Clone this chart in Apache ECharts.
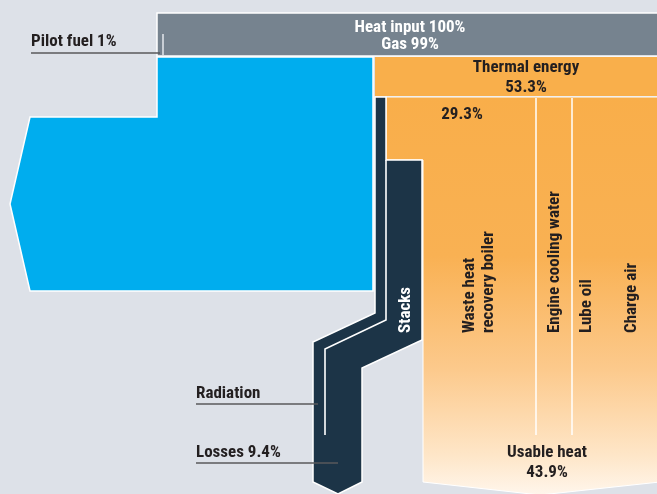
<!DOCTYPE html>
<html>
<head>
<meta charset="utf-8">
<script src="https://cdn.jsdelivr.net/npm/echarts@6/dist/echarts.min.js"></script>
<style>
html,body{margin:0;padding:0;background:#dde1e8;}
#c{width:657px;height:494px;}
</style>
</head>
<body>
<div id="c"></div>
<script>
// ---- data (energy shares, %) ----
const flowNames = ['Heat input', 'Gas', 'Pilot fuel', 'Thermal energy', 'Waste heat recovery boiler', 'Losses', 'Usable heat'];
const flowShares = [100, 99, 1, 53.3, 29.3, 9.4, 43.9];
const thermalParts = ['Waste heat\nrecovery boiler', 'Engine cooling water', 'Lube oil', 'Charge air'];
const lossParts = ['Stacks', 'Radiation'];

// ---- layout (diagram coordinates, drawn through hidden value axes) ----
const FONT = 'bold 17px "Liberation Sans Narrow", "Arial Narrow", "Roboto Condensed", sans-serif';
const DARK = '#231f20';
const orangeGrad = new echarts.graphic.LinearGradient(0, 0, 0, 1, [
  {offset: 0, color: '#f9ae4a'},
  {offset: 0.4, color: '#f9b153'},
  {offset: 0.68, color: '#fcc98b'},
  {offset: 0.9, color: '#fee6c8'},
  {offset: 1, color: '#fff6ec'}
]);
const shapes = [
  {kind: 'polygon', pts: [[157,13],[660,13],[660,56],[157,56]], fill: '#76838f', stroke: '#ffffff', lw: 1.5},
  {kind: 'polygon', pts: [[157,57],[373,57],[373,291],[30,291],[10,204],[30,117],[157,117]], fill: '#00adee', stroke: '#ffffff', lw: 1.5},
  {kind: 'polygon', pts: [[375,57],[660,57],[660,96],[375,96]], fill: '#f9af4b', stroke: null, lw: 0},
  {kind: 'polygon', pts: [[386,97],[660,97],[660,482],[540,495],[423,482],[423,160],[386,160]], fill: orangeGrad, stroke: '#ffffff', lw: 1},
  {kind: 'polygon', pts: [[375,97],[386,97],[386,160],[422,160],[422,340],[362,368],[362,482],[338,494],[313,482],[313,342],[375,313]], fill: '#1c3447', stroke: '#ffffff', lw: 1.5},
  {kind: 'line', pts: [[386,160],[386,320],[325,349],[325,435]], stroke: '#ffffff', lw: 1.6},
  {kind: 'line', pts: [[536,98],[536,435]], stroke: '#ffffff', lw: 1.5},
  {kind: 'line', pts: [[572,98],[572,435]], stroke: '#ffffff', lw: 1.5},
  {kind: 'line', pts: [[163,34],[163,55]], stroke: '#e4e7ec', lw: 1.5},
  {kind: 'line', pts: [[31,53],[160,53]], stroke: '#58595b', lw: 1.6},
  {kind: 'line', pts: [[196,404],[318,404]], stroke: '#58595b', lw: 1.6},
  {kind: 'line', pts: [[196,463],[338,463]], stroke: '#58595b', lw: 1.6}
];

const pct = v => v + '%';
const labels = [
  {text: flowNames[0] + ' ' + pct(flowShares[0]) + '\n' + flowNames[1] + ' ' + pct(flowShares[1]), x: 410, y: 36, fill: '#ffffff', align: 'center', rot: 0, lh: 17},
  {text: flowNames[2] + ' ' + pct(flowShares[2]), x: 31, y: 42, fill: DARK, align: 'left', rot: 0, lh: 18},
  {text: flowNames[3] + '\n' + pct(flowShares[3]), x: 526, y: 78, fill: DARK, align: 'center', rot: 0, lh: 20},
  {text: pct(flowShares[4]), x: 462, y: 115, fill: DARK, align: 'center', rot: 0, lh: 18},
  {text: 'Usable heat\n' + pct(flowShares[6]), x: 547, y: 463, fill: DARK, align: 'center', rot: 0, lh: 20},
  {text: lossParts[1], x: 196, y: 394, fill: DARK, align: 'left', rot: 0, lh: 18},
  {text: flowNames[5] + ' ' + pct(flowShares[5]), x: 196, y: 453, fill: DARK, align: 'left', rot: 0, lh: 18},
  {text: lossParts[0], x: 406, y: 333, fill: '#ffffff', align: 'left', rot: Math.PI / 2, lh: 18},
  {text: thermalParts[0], x: 479, y: 333, fill: DARK, align: 'left', rot: Math.PI / 2, lh: 19},
  {text: thermalParts[1], x: 555, y: 333, fill: DARK, align: 'left', rot: Math.PI / 2, lh: 18},
  {text: thermalParts[2], x: 587, y: 333, fill: DARK, align: 'left', rot: Math.PI / 2, lh: 18},
  {text: thermalParts[3], x: 632, y: 333, fill: DARK, align: 'left', rot: Math.PI / 2, lh: 18}
];

const chart = echarts.init(document.getElementById('c'), null, {renderer: 'canvas'});
chart.setOption({
  backgroundColor: '#dde1e8',
  animation: false,
  grid: {left: 0, right: 0, top: 0, bottom: 0},
  xAxis: {type: 'value', min: 0, max: 657, show: false},
  yAxis: {type: 'value', min: 0, max: 494, inverse: true, show: false},
  series: [
    {
      type: 'custom',
      coordinateSystem: 'cartesian2d',
      data: shapes.map((s, i) => [i]),
      renderItem: function (params, api) {
        const s = shapes[params.dataIndex];
        const pts = s.pts.map(p => api.coord(p));
        if (s.kind === 'polygon') {
          return {type: 'polygon', shape: {points: pts},
            style: {fill: s.fill, stroke: s.stroke || 'none', lineWidth: s.lw}};
        }
        return {type: 'polyline', shape: {points: pts},
          style: {fill: 'none', stroke: s.stroke, lineWidth: s.lw}};
      }
    },
    {
      type: 'custom',
      coordinateSystem: 'cartesian2d',
      data: labels.map((l, i) => [i]),
      z: 5,
      renderItem: function (params, api) {
        const l = labels[params.dataIndex];
        const p = api.coord([l.x, l.y]);
        return {type: 'text', x: p[0], y: p[1], rotation: l.rot,
          style: {text: l.text, font: FONT, fill: l.fill, align: l.align,
            verticalAlign: 'middle', lineHeight: l.lh}};
      }
    }
  ]
});
</script>
</body>
</html>
